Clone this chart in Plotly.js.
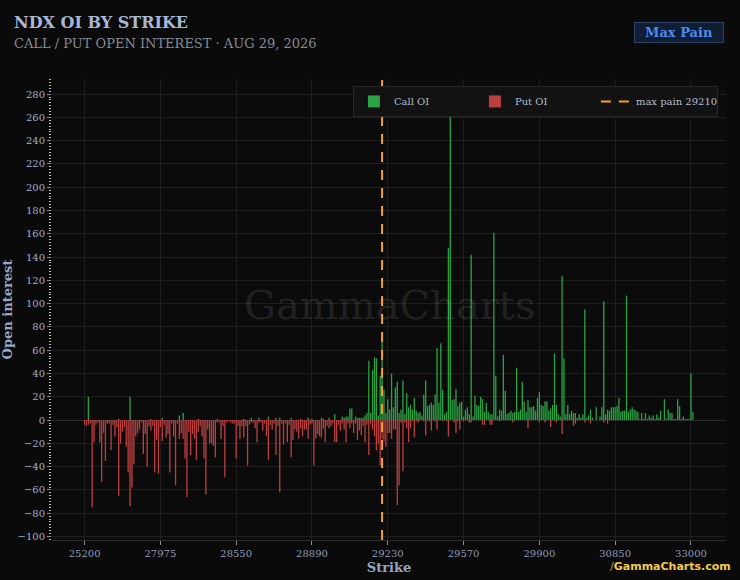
<!DOCTYPE html>
<html>
<head>
<meta charset="utf-8">
<script src="https://cdn.plot.ly/plotly-3.0.1.min.js"></script>
<style>
    html, body { margin: 0; padding: 0; background: #0a0a0a; }
    #chart { width: 740px; height: 580px; }
</style>
</head>
<body>
<div id="chart"></div>
<script>
// strikes on the category axis
let strikes = [
    25200, 25400, 25600, 25800, 26000, 26200, 26500, 26600, 26700, 26800,
    26900, 27000, 27050, 27100, 27150, 27200, 27250, 27300, 27350, 27400,
    27450, 27500, 27525, 27550, 27575, 27600, 27625, 27650, 27675, 27700,
    27725, 27750, 27775, 27800, 27825, 27850, 27875, 27900, 27925, 27950,
    27975, 28000, 28025, 28050, 28075, 28100, 28125, 28150, 28175, 28200,
    28225, 28250, 28275, 28280, 28290, 28300, 28310, 28320, 28330, 28340,
    28350, 28360, 28370, 28380, 28390, 28400, 28410, 28420, 28430, 28440,
    28450, 28460, 28470, 28480, 28490, 28500, 28510, 28520, 28530, 28540,
    28550, 28560, 28570, 28575, 28580, 28590, 28600, 28610, 28620, 28625,
    28630, 28640, 28650, 28660, 28670, 28675, 28680, 28690, 28700, 28710,
    28720, 28725, 28730, 28740, 28750, 28760, 28770, 28775, 28780, 28790,
    28800, 28810, 28820, 28825, 28830, 28840, 28850, 28860, 28870, 28880,
    28890, 28900, 28910, 28920, 28925, 28930, 28940, 28950, 28960, 28970,
    28975, 28980, 28990, 29000, 29010, 29020, 29025, 29030, 29040, 29050,
    29060, 29070, 29075, 29080, 29090, 29100, 29110, 29120, 29125, 29130,
    29140, 29150, 29160, 29170, 29180, 29190, 29200, 29210, 29220, 29225,
    29230, 29240, 29250, 29260, 29270, 29275, 29280, 29290, 29300, 29310,
    29320, 29325, 29330, 29340, 29350, 29360, 29370, 29375, 29380, 29390,
    29400, 29410, 29420, 29425, 29430, 29440, 29450, 29460, 29470, 29475,
    29480, 29490, 29500, 29510, 29520, 29525, 29530, 29540, 29550, 29560,
    29570, 29575, 29580, 29590, 29600, 29610, 29620, 29625, 29630, 29640,
    29650, 29660, 29670, 29675, 29680, 29690, 29700, 29710, 29720, 29725,
    29730, 29740, 29750, 29760, 29770, 29775, 29780, 29790, 29800, 29810,
    29820, 29825, 29830, 29840, 29850, 29860, 29870, 29875, 29880, 29890,
    29900, 29910, 29920, 29930, 29940, 29950, 29960, 29970, 29980, 29990,
    30000, 30025, 30050, 30075, 30100, 30125, 30150, 30175, 30200, 30225,
    30250, 30275, 30300, 30325, 30350, 30375, 30400, 30425, 30450, 30475,
    30500, 30525, 30550, 30575, 30600, 30625, 30650, 30700, 30750, 30800,
    30850, 30875, 30900, 30925, 30950, 30975, 31000, 31025, 31050, 31075,
    31100, 31125, 31150, 31175, 31200, 31225, 31250, 31275, 31300, 31350,
    31400, 31450, 31500, 31550, 31600, 31650, 31700, 31750, 31800, 31850,
    31900, 31950, 32000, 32100, 32200, 32300, 32400, 32500, 32600, 32800,
    33000, 33500
]

let callOI = [
    0, 0, 20, 0, 0, 0, 0, 0, 0, 0,
    0, 0, 0, 0, 0, 0, 0, 0, 1, 0,
    0, 0, 0, 0, 20, 0, 0, 0, 0, 0,
    0, 0, 0, 0, 0, 1, 0, 0, 0, 0,
    0, 2, 0, 0, 0, 0, 0, 0, 0, 0,
    4, 0, 6, 0, 0, 0, 0, 0, 0, 0,
    1, 0, 0, 0, 0, 0, 0, 0, 0, 0,
    1, 0, 0, 0, 0, 0, 0, 0, 0, 0,
    0, 0, 0, 0, 1, 0, 0, 0, 2, 0,
    0, 0, 2, 0, 0, 0, 0, 3, 0, 0,
    0, 2, 0, 2, 0, 0, 0, 0, 0, 2,
    0, 0, 0, 0, 1, 0, 0, 0, 2, 0,
    1, 0, 0, 0, 0, 2, 1, 0, 0, 2,
    0, 0, 5, 0, 0, 0, 3, 2, 3, 3,
    10, 10, 0, 3, 2, 2, 2, 2, 4, 6,
    51, 6, 43, 54, 53, 4, 38, 72, 26, 6,
    18, 9, 40, 11, 28, 33, 6, 9, 34, 5,
    23, 11, 13, 9, 19, 8, 6, 7, 4, 22,
    34, 12, 13, 15, 13, 22, 62, 15, 66, 26,
    5, 7, 148, 268, 17, 18, 27, 12, 15, 16,
    3, 9, 11, 5, 142, 3, 21, 13, 12, 20,
    18, 7, 15, 7, 5, 5, 161, 38, 3, 9,
    8, 56, 25, 5, 6, 8, 6, 7, 45, 7,
    9, 33, 16, 7, 17, 11, 11, 12, 8, 19,
    24, 13, 12, 16, 16, 8, 10, 13, 57, 13,
    5, 3, 124, 53, 5, 13, 5, 8, 6, 6,
    2, 5, 2, 5, 95, 2, 4, 9, 2, 0,
    11, 0, 3, 11, 102, 5, 9, 8, 11, 11,
    11, 12, 19, 7, 8, 8, 107, 7, 9, 11,
    9, 8, 7, 1, 6, 1, 6, 1, 4, 2,
    4, 1, 5, 2, 8, 0, 18, 1, 9, 6,
    6, 1, 1, 18, 12, 1, 3, 1, 1, 1,
    40, 7
]

// put OI is drawn below zero
let putOI = [
    -4, -5, -4, -3, -75, -19, -4, -2, -19, -53,
    -11, -35, -3, -3, -26, -4, -14, -6, -65, -20,
    -10, -6, -23, -45, -74, -58, -38, -14, -11, -8,
    -2, -29, -12, -40, -5, -9, -5, -45, -17, -46,
    -6, -18, -4, -15, -12, -45, -3, -14, -56, -3,
    -16, -11, -16, -33, -66, -10, -30, -12, -16, -34,
    -10, -5, -14, -33, -64, -8, -20, -20, -22, -32,
    -2, -2, -16, -5, -49, -2, -1, -2, -3, -3,
    -33, -5, -16, -5, -15, -5, -39, -4, -2, -2,
    -7, -19, -2, -2, -9, -3, -14, -34, -4, -8,
    -3, -30, -5, -62, -3, -21, -3, -19, -4, -32,
    -17, -8, -10, -16, -7, -14, -8, -8, -16, -4,
    -3, -39, -16, -12, -14, -15, -7, -19, -5, -7,
    -5, -3, -19, -19, -4, -9, -3, -8, -19, -3,
    -7, -3, -11, -3, -17, -9, -13, -5, -19, -4,
    -30, -3, -8, -14, -26, -20, -39, -16, -18, -23,
    -11, -11, -16, -8, -8, -73, -56, -2, -44, -2,
    -7, -19, -7, -1, -15, -1, -2, 0, 0, -1,
    -13, 0, -1, -9, 0, -1, -8, 0, 0, -1,
    0, -1, -14, 0, 0, -2, -11, -1, -8, 0,
    -1, 0, 0, -2, -2, 0, 0, 0, 0, 0,
    -4, -4, 0, 0, -4, -4, 0, 0, 0, -1,
    0, 0, 0, 0, 0, 0, -2, 0, 0, 0,
    0, 0, 0, 0, -7, 0, 0, 0, 0, 0,
    -2, 0, 0, -2, 0, 0, -6, 0, 0, -2,
    0, 0, -12, 0, 0, 0, 0, 0, -5, -3,
    0, 0, 0, 0, -2, 0, 0, -3, 0, 0,
    0, 0, 0, 0, -2, 0, -3, 0, 0, 0,
    0, 0, 0, 0, 0, 0, 0, 0, 0, 0,
    0, 0, 0, 0, 0, 0, 0, 0, 0, 0,
    0, 0, 0, 0, 0, 0, 0, 0, 0, 0,
    0, 0, 0, 0, 0, 0, 0, 0, 0, 0,
    0, 0
]

let tickStrikes = [25200, 27975, 28550, 28890, 29230, 29570, 29900, 30850, 33000]
let maxPain = 29210

let yLow = -103
let yHigh = 293

let serif = 'DejaVu Serif, serif'
let x = strikes.map(s => String(s))

let calls = {
    type: 'bar', name: 'Call OI', x: x, y: callOI,
    marker: { color: '#2fb24a', line: { width: 0 } }, opacity: 0.9
}
let puts = {
    type: 'bar', name: 'Put OI', x: x, y: putOI,
    marker: { color: '#cc4646', line: { width: 0 } }, opacity: 0.9
}
let pain = {
    type: 'scatter', mode: 'lines', name: 'max pain ' + maxPain,
    x: [String(maxPain), String(maxPain)], y: [yLow, yHigh],
    line: { color: '#f5a01e', width: 2, dash: '10px,8px' }
}

let layout = {
    width: 740,
    height: 580,
    paper_bgcolor: '#0a0a0a',
    plot_bgcolor: '#0b0b0b',
    margin: { l: 52, r: 14, t: 79, b: 40 },
    font: { family: serif, color: '#a3adc8', size: 10 },
    barmode: 'overlay',
    bargap: 0.3,
    title: {
        text: '<b>NDX OI BY STRIKE</b>',
        x: 14 / 740, xanchor: 'left', xref: 'container',
        y: 1 - 22 / 580, yanchor: 'middle', yref: 'container',
        font: { family: serif, size: 16, color: '#a9b7d6' }
    },
    xaxis: {
        type: 'category',
        range: [-17.2, 338.5],
        tickmode: 'array',
        tickvals: tickStrikes.map(s => String(s)),
        ticktext: tickStrikes.map(s => String(s)),
        ticks: 'outside', ticklen: 4, tickcolor: '#8a8f9c',
        tickfont: { size: 10, color: '#8e9ab8' },
        showgrid: true, gridcolor: '#1e1e1e',
        showline: true, linecolor: '#2a2a2a', linewidth: 1,
        title: { text: '<b>Strike</b>', standoff: 4, font: { size: 13, color: '#97a6c6' } }
    },
    yaxis: {
        range: [yLow, yHigh],
        dtick: 20,
        ticks: 'outside', ticklen: 4, tickcolor: '#8a8f9c',
        tickfont: { size: 10, color: '#a3adc8' },
        showgrid: true, gridcolor: '#1e1e1e',
        zeroline: true, zerolinecolor: '#2a2a2a',
        minor: { dtick: 2.5, ticks: 'outside', ticklen: 2, tickcolor: '#bdbdbd', showgrid: false },
        title: { text: '<b>Open interest</b>', standoff: 2, font: { size: 13, color: '#97a6c6' } }
    },
    legend: {
        orientation: 'h',
        x: 0.988, xanchor: 'right',
        y: 0.985, yanchor: 'top',
        bgcolor: '#121212', bordercolor: '#262626', borderwidth: 1,
        font: { size: 10, color: '#b3bccd' },
        entrywidth: 76, entrywidthmode: 'pixels',
        traceorder: 'normal'
    },
    annotations: [
        {
            text: 'CALL / PUT OPEN INTEREST · AUG 29, 2026',
            xref: 'paper', yref: 'paper', x: -40 / 674, y: 1.076, xanchor: 'left', yanchor: 'middle',
            showarrow: false, font: { family: serif, size: 13, color: '#868b95' }
        },
        {
            text: 'GammaCharts', xref: 'paper', yref: 'paper', x: 0.5, y: 0.51,
            showarrow: false, font: { family: serif, size: 40, color: 'rgba(255,255,255,0.1)' }
        },
        {
            text: '<b>Max Pain</b>', xref: 'paper', yref: 'paper', x: 0.930, y: 1.1,
            xanchor: 'center', yanchor: 'middle',
            showarrow: false, width: 84, height: 15, borderpad: 2,
            bgcolor: '#111d33', bordercolor: '#2b4168', borderwidth: 1,
            font: { family: serif, size: 13, color: '#4b8cef' }
        },
        {
            text: "<span style='color:#e08a2a'>/</span><b>GammaCharts.com</b>",
            xref: 'paper', yref: 'paper', x: 1.011, y: -0.058, xanchor: 'right', yanchor: 'middle',
            showarrow: false, font: { family: 'DejaVu Sans, sans-serif', size: 11, color: '#f2c94c' }
        }
    ]
}

Plotly.newPlot('chart', [calls, puts, pain], layout, { displayModeBar: false, staticPlot: true })
</script>
</body>
</html>
